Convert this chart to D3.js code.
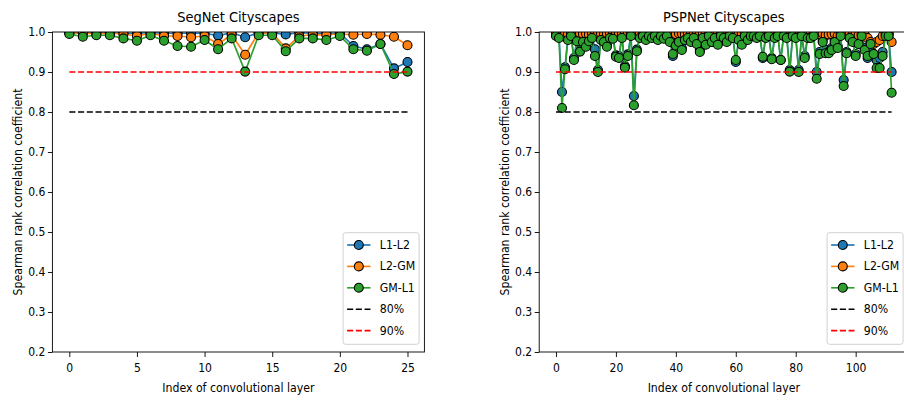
<!DOCTYPE html>
<html>
<head>
<meta charset="utf-8">
<script src="https://cdn.jsdelivr.net/npm/d3@7"></script>
<style>
  html, body { margin: 0; padding: 0; background: #fff; }
  svg { display: block; }
  svg text { font-family: "DejaVu Sans Condensed", "DejaVu Sans", sans-serif; font-stretch: condensed; fill: #000; }
</style>
</head>
<body>
<svg id="chart" width="904" height="400"></svg>
<script>
// Spearman rank correlation between filter-importance criteria, per conv layer.
const seriesNames = ["L1-L2", "L2-GM", "GM-L1"];
const seriesColors = ["#1f77b4", "#ff7f0e", "#2ca02c"];
const refNames = ["80%", "90%"];
const refValues = [0.8, 0.9];
const refColors = ["#000000", "#ff0000"];

const yTicks = [0.2, 0.3, 0.4, 0.5, 0.6, 0.7, 0.8, 0.9, 1.0];
const segnetXTicks = [0, 5, 10, 15, 20, 25];
const pspnetXTicks = [0, 20, 40, 60, 80, 100];

// SegNet: 26 convolutional layers (index 0..25)
const segnetL1L2 = [0.998, 0.998, 0.998, 0.998, 0.997, 0.997, 0.998, 0.997, 0.997, 0.997,
  0.997, 0.991, 0.998, 0.987, 0.998, 0.998, 0.994, 0.998, 0.997, 0.997,
  0.997, 0.965, 0.957, 0.970, 0.909, 0.925];
const segnetL2GM = [0.998, 0.997, 0.996, 0.997, 0.995, 0.990, 0.997, 0.990, 0.990, 0.987,
  0.990, 0.970, 0.993, 0.943, 0.998, 0.998, 0.959, 0.990, 0.993, 0.993,
  0.995, 0.993, 0.995, 0.993, 0.988, 0.967];
const segnetGML1 = [0.995, 0.988, 0.992, 0.992, 0.984, 0.978, 0.992, 0.978, 0.965, 0.963,
  0.980, 0.957, 0.984, 0.901, 0.992, 0.992, 0.952, 0.984, 0.984, 0.980,
  0.990, 0.957, 0.953, 0.970, 0.895, 0.901];

// PSPNet: 113 convolutional layers (index 0..112)
const pspnetL1L2 = [0.995, 0.993, 0.850, 0.912, 0.990, 0.995, 0.935, 0.985, 0.955, 0.985,
  0.968, 0.985, 0.992, 0.957, 0.905, 0.990, 0.985, 0.968, 0.992, 0.990,
  0.942, 0.940, 0.992, 0.915, 0.944, 0.995, 0.840, 0.956, 0.992, 0.995,
  0.988, 0.995, 0.992, 0.995, 0.988, 0.995, 0.990, 0.995, 0.982, 0.940,
  0.970, 0.982, 0.960, 0.988, 0.992, 0.982, 0.992, 0.976, 0.955, 0.992,
  0.972, 0.995, 0.975, 0.992, 0.972, 0.995, 0.992, 0.980, 0.995, 0.992,
  0.925, 0.986, 0.972, 0.995, 0.986, 0.995, 0.995, 0.992, 0.995, 0.935,
  0.992, 0.995, 0.935, 0.992, 0.995, 0.930, 0.995, 0.992, 0.905, 0.995,
  0.992, 0.905, 0.995, 0.940, 0.992, 0.990, 0.995, 0.900, 0.950, 0.980,
  0.955, 0.950, 0.960, 0.980, 0.965, 0.995, 0.880, 0.950, 0.990, 0.980,
  0.945, 0.975, 0.995, 0.960, 0.935, 0.950, 0.945, 0.930, 0.935, 0.950,
  0.995, 0.995, 0.900];
const pspnetL2GM = [0.998, 0.997, 0.996, 0.997, 0.995, 0.997, 0.996, 0.994, 0.997, 0.995,
  0.996, 0.994, 0.997, 0.995, 0.996, 0.997, 0.994, 0.996, 0.997, 0.995,
  0.996, 0.997, 0.995, 0.997, 0.996, 0.997, 0.994, 0.996, 0.997, 0.995,
  0.996, 0.997, 0.995, 0.997, 0.996, 0.994, 0.997, 0.995, 0.996, 0.997,
  0.995, 0.997, 0.996, 0.994, 0.997, 0.995, 0.996, 0.997, 0.995, 0.997,
  0.996, 0.994, 0.997, 0.995, 0.996, 0.997, 0.995, 0.997, 0.996, 0.994,
  0.997, 0.995, 0.996, 0.997, 0.995, 0.997, 0.996, 0.994, 0.997, 0.995,
  0.996, 0.997, 0.995, 0.997, 0.996, 0.994, 0.997, 0.995, 0.996, 0.997,
  0.995, 0.997, 0.996, 0.994, 0.997, 0.995, 0.996, 0.997, 0.995, 0.997,
  0.992, 0.994, 0.995, 0.996, 0.990, 0.995, 0.996, 0.994, 0.995, 0.993,
  0.996, 0.992, 0.995, 0.993, 0.985, 0.975, 0.970, 0.975, 0.980, 0.990,
  0.996, 0.995, 0.975];
const pspnetGML1 = [0.990, 0.985, 0.810, 0.907, 0.980, 0.990, 0.930, 0.977, 0.951, 0.975,
  0.963, 0.977, 0.985, 0.940, 0.900, 0.980, 0.975, 0.963, 0.985, 0.983,
  0.938, 0.935, 0.985, 0.911, 0.940, 0.990, 0.817, 0.952, 0.985, 0.990,
  0.980, 0.990, 0.985, 0.990, 0.980, 0.990, 0.983, 0.990, 0.975, 0.945,
  0.966, 0.975, 0.955, 0.980, 0.985, 0.975, 0.985, 0.970, 0.950, 0.985,
  0.968, 0.990, 0.975, 0.985, 0.968, 0.990, 0.985, 0.975, 0.990, 0.985,
  0.930, 0.980, 0.968, 0.990, 0.980, 0.990, 0.990, 0.985, 0.990, 0.938,
  0.985, 0.990, 0.932, 0.985, 0.990, 0.930, 0.990, 0.985, 0.901, 0.990,
  0.985, 0.900, 0.990, 0.935, 0.985, 0.985, 0.990, 0.883, 0.945, 0.975,
  0.947, 0.947, 0.955, 0.975, 0.960, 0.990, 0.865, 0.947, 0.985, 0.975,
  0.940, 0.970, 0.990, 0.955, 0.940, 0.970, 0.945, 0.910, 0.910, 0.940,
  0.990, 0.990, 0.848];

const panels = [
  {
    id: "seg", title: "SegNet Cityscapes",
    left: 52.4, right: 424.4, xDomain: [-1.25, 26.25], xTicks: segnetXTicks,
    series: [segnetL1L2, segnetL2GM, segnetGML1], yLabelX: 18
  },
  {
    id: "psp", title: "PSPNet Cityscapes",
    left: 539.2, right: 908.4, xDomain: [-5.6, 117.6], xTicks: pspnetXTicks,
    series: [pspnetL1L2, pspnetL2GM, pspnetGML1], yLabelX: 505
  }
];

const plotTop = 32, plotBottom = 352;
const svg = d3.select("#chart");
const y = d3.scaleLinear().domain([0.2, 1.0]).range([plotBottom, plotTop]);

const lineW = 1.65, markerR = 4.5;
const dash = "6.1,2.64";
const fontTick = 12, fontLabel = 12.2, fontTitle = 14.5;

panels.forEach(p => {
  const x = d3.scaleLinear().domain(p.xDomain).range([p.left, p.right]);
  const g = svg.append("g");

  g.append("clipPath").attr("id", "clip-" + p.id)
    .append("rect")
    .attr("x", p.left).attr("y", plotTop)
    .attr("width", p.right - p.left).attr("height", plotBottom - plotTop);

  const plot = g.append("g").attr("clip-path", `url(#clip-${p.id})`);
  const line = d3.line().x((d, i) => x(i)).y(d => y(d));

  // each series: line, then its markers, in plotting order
  p.series.forEach((vals, si) => {
    const sg = plot.append("g");
    sg.append("path").datum(vals)
      .attr("d", line)
      .attr("fill", "none")
      .attr("stroke", seriesColors[si])
      .attr("stroke-width", lineW)
      .attr("stroke-linejoin", "round");
    sg.selectAll("circle").data(vals).join("circle")
      .attr("cx", (d, i) => x(i))
      .attr("cy", d => y(d))
      .attr("r", markerR)
      .attr("fill", seriesColors[si])
      .attr("stroke", "#000")
      .attr("stroke-width", 1.1);
  });

  // threshold references across the layer range
  const lastIdx = p.series[0].length - 1;
  refValues.forEach((v, ri) => {
    plot.append("line")
      .attr("x1", x(0)).attr("x2", x(lastIdx))
      .attr("y1", y(v)).attr("y2", y(v))
      .attr("stroke", refColors[ri])
      .attr("stroke-width", lineW)
      .attr("stroke-dasharray", dash);
  });

  // axes
  const xAxis = d3.axisBottom(x).tickValues(p.xTicks).tickSize(5).tickPadding(6)
    .tickFormat(d3.format("d"));
  const yAxis = d3.axisLeft(y).tickValues(yTicks).tickSize(4.5).tickPadding(2.5)
    .tickFormat(d3.format(".1f"));

  const gx = g.append("g").attr("transform", `translate(0,${plotBottom})`).call(xAxis);
  const gy = g.append("g").attr("transform", `translate(${p.left},0)`).call(yAxis);
  [gx, gy].forEach(a => {
    a.attr("font-family", null).attr("font-size", null);
    a.select(".domain").remove();
    a.selectAll("line").attr("stroke", "#000").attr("stroke-width", 0.9);
    a.selectAll("text").attr("font-size", fontTick).attr("fill", "#000");
  });

  // frame
  g.append("rect")
    .attr("x", p.left).attr("y", plotTop)
    .attr("width", p.right - p.left).attr("height", plotBottom - plotTop)
    .attr("fill", "none").attr("stroke", "#000").attr("stroke-width", 0.9);

  // labels
  const cx = (p.left + p.right) / 2;
  g.append("text").attr("x", cx).attr("y", 22)
    .attr("text-anchor", "middle").attr("font-size", fontTitle).text(p.title);
  g.append("text").attr("x", cx).attr("y", 392)
    .attr("text-anchor", "middle").attr("font-size", fontLabel).text("Index of convolutional layer");
  g.append("text")
    .attr("transform", `translate(${p.yLabelX},${(plotTop + plotBottom) / 2}) rotate(-90)`)
    .attr("text-anchor", "middle").attr("dominant-baseline", "central")
    .attr("font-size", fontLabel).text("Spearman rank correlation coefficient");

  // legend
  const lw = 76, lh = 111.6;
  const lx = p.right - 5.3 - lw, ly = plotBottom - 7.7 - lh;
  const lg = g.append("g").attr("transform", `translate(${lx},${ly})`);
  lg.append("rect").attr("width", lw).attr("height", lh)
    .attr("rx", 2.5).attr("fill", "#fff").attr("fill-opacity", 0.8)
    .attr("stroke", "#cccccc").attr("stroke-width", 0.9);
  const entries = seriesNames.map((n, i) => ({ name: n, color: seriesColors[i], marker: true }))
    .concat(refNames.map((n, i) => ({ name: n, color: refColors[i], marker: false })));
  entries.forEach((e, i) => {
    const ey = 12.3 + i * 21.4;
    const row = lg.append("g").attr("transform", `translate(0,${ey})`);
    row.append("line").attr("x1", 4).attr("x2", 27.4).attr("y1", 0).attr("y2", 0)
      .attr("stroke", e.color).attr("stroke-width", lineW)
      .attr("stroke-dasharray", e.marker ? null : dash);
    if (e.marker) {
      row.append("circle").attr("cx", 15.7).attr("cy", 0).attr("r", markerR)
        .attr("fill", e.color).attr("stroke", "#000").attr("stroke-width", 1.1);
    }
    row.append("text").attr("x", 36.7).attr("y", 0)
      .attr("dominant-baseline", "central").attr("font-size", fontLabel).text(e.name);
  });
});
</script>
</body>
</html>
